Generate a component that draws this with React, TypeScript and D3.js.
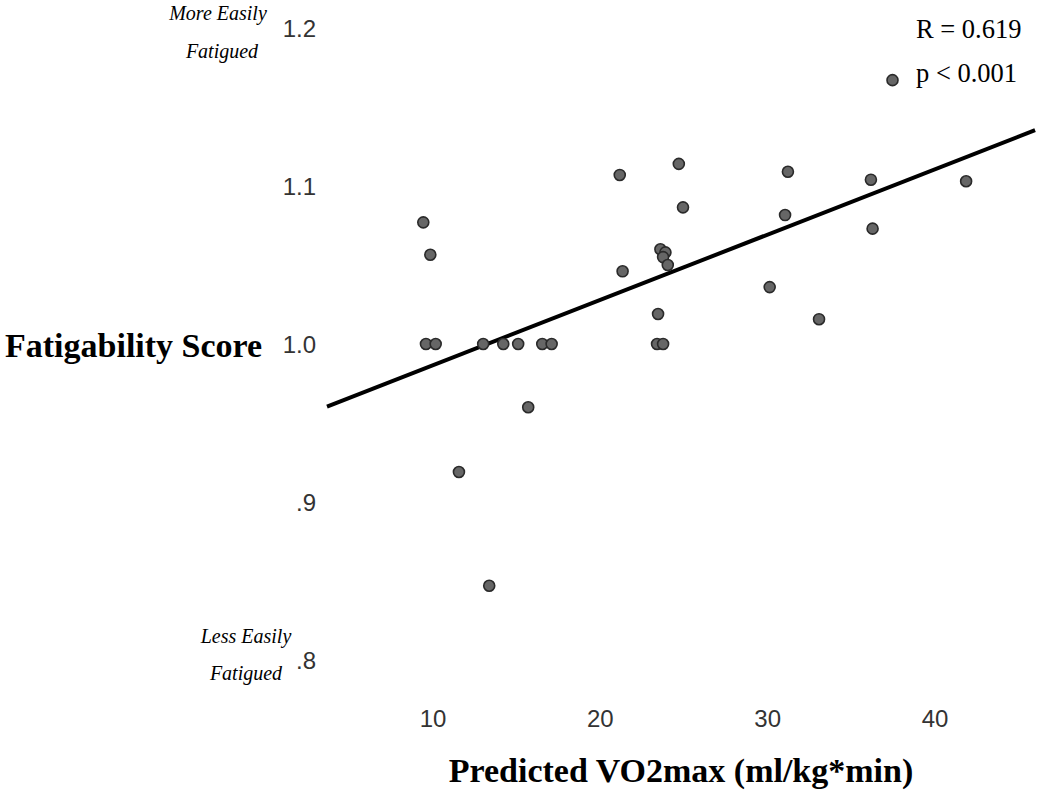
import React from "react";
import * as d3 from "d3";

const vo2max = [9.42, 9.84, 9.58, 10.16, 13.0, 14.2, 15.09, 16.53, 17.09, 15.69, 11.55, 13.36,
  21.16, 24.69, 31.21, 24.94, 31.04, 23.59, 23.89, 23.75, 24.03, 21.33, 30.12, 23.45, 33.07,
  23.39, 23.75, 36.17, 41.86, 36.27];
const fatigability = [1.077, 1.0565, 1.0, 1.0, 1.0, 1.0, 1.0, 1.0, 1.0, 0.96, 0.919, 0.847,
  1.107, 1.114, 1.109, 1.0865, 1.0816, 1.06, 1.058, 1.055, 1.05, 1.046, 1.036, 1.019, 1.0157,
  1.0, 1.0, 1.104, 1.103, 1.073];

const fitX = [3.665, 45.98];
const fitY = [0.9604, 1.1353];

const xTicks = [10, 20, 30, 40];
const xTickLabels = ["10", "20", "30", "40"];
const yTicks = [0.8, 0.9, 1.0, 1.1, 1.2];
const yTickLabels = [".8", ".9", "1.0", "1.1", "1.2"];

const xTitle = "Predicted VO2max (ml/kg*min)";
const yTitle = "Fatigability Score";
const statR = "R = 0.619";
const statP = "p < 0.001";
const legendDotX = 37.46;
const legendDotY = 1.167;

export default function App() {
  const W = 1040, H = 797;
  const x = d3.scaleLinear().domain([10, 40]).range([433, 935]);
  const y = d3.scaleLinear().domain([0.8, 1.2]).range([660, 28]);
  const line = d3.line<number>().x((d, i) => x(fitX[i])).y((d, i) => y(fitY[i]));
  const serif = "'Liberation Serif', 'Times New Roman', serif";
  const sans = "'Liberation Sans', Arial, sans-serif";
  return (
    <svg width={W} height={H} style={{ position: "absolute", left: 0, top: 0, background: "#fff" }}>
      <rect width={W} height={H} fill="#fff" />
      {yTicks.map((t, i) => (
        <text key={"yt" + i} x={316} y={y(t) + 9} textAnchor="end" fontFamily={sans} fontSize={24} fill="#333">
          {yTickLabels[i]}
        </text>
      ))}
      {xTicks.map((t, i) => (
        <text key={"xt" + i} x={x(t)} y={727} textAnchor="middle" fontFamily={sans} fontSize={24} fill="#333">
          {xTickLabels[i]}
        </text>
      ))}
      <text x={218} y={20} textAnchor="middle" fontFamily={serif} fontStyle="italic" fontSize={20}>More Easily</text>
      <text x={222} y={58} textAnchor="middle" fontFamily={serif} fontStyle="italic" fontSize={20}>Fatigued</text>
      <text x={246} y={643} textAnchor="middle" fontFamily={serif} fontStyle="italic" fontSize={20}>Less Easily</text>
      <text x={246} y={680} textAnchor="middle" fontFamily={serif} fontStyle="italic" fontSize={20}>Fatigued</text>
      <text x={5} y={357} fontFamily={serif} fontWeight="bold" fontSize={34}>{yTitle}</text>
      <text x={681} y={782} textAnchor="middle" fontFamily={serif} fontWeight="bold" fontSize={34}>{xTitle}</text>
      <text x={916} y={38} fontFamily={serif} fontSize={26.5}>{statR}</text>
      <text x={916} y={82} fontFamily={serif} fontSize={26.5}>{statP}</text>
      <path d={line(fitX) || ""} stroke="#000" strokeWidth={4} fill="none" />
      {vo2max.map((v, i) => (
        <circle key={"p" + i} cx={x(v)} cy={y(fatigability[i])} r={5.5} fill="#666" stroke="#2a2a2a" strokeWidth={1.6} />
      ))}
      <circle cx={x(legendDotX)} cy={y(legendDotY)} r={5.5} fill="#666" stroke="#2a2a2a" strokeWidth={1.6} />
    </svg>
  );
}
